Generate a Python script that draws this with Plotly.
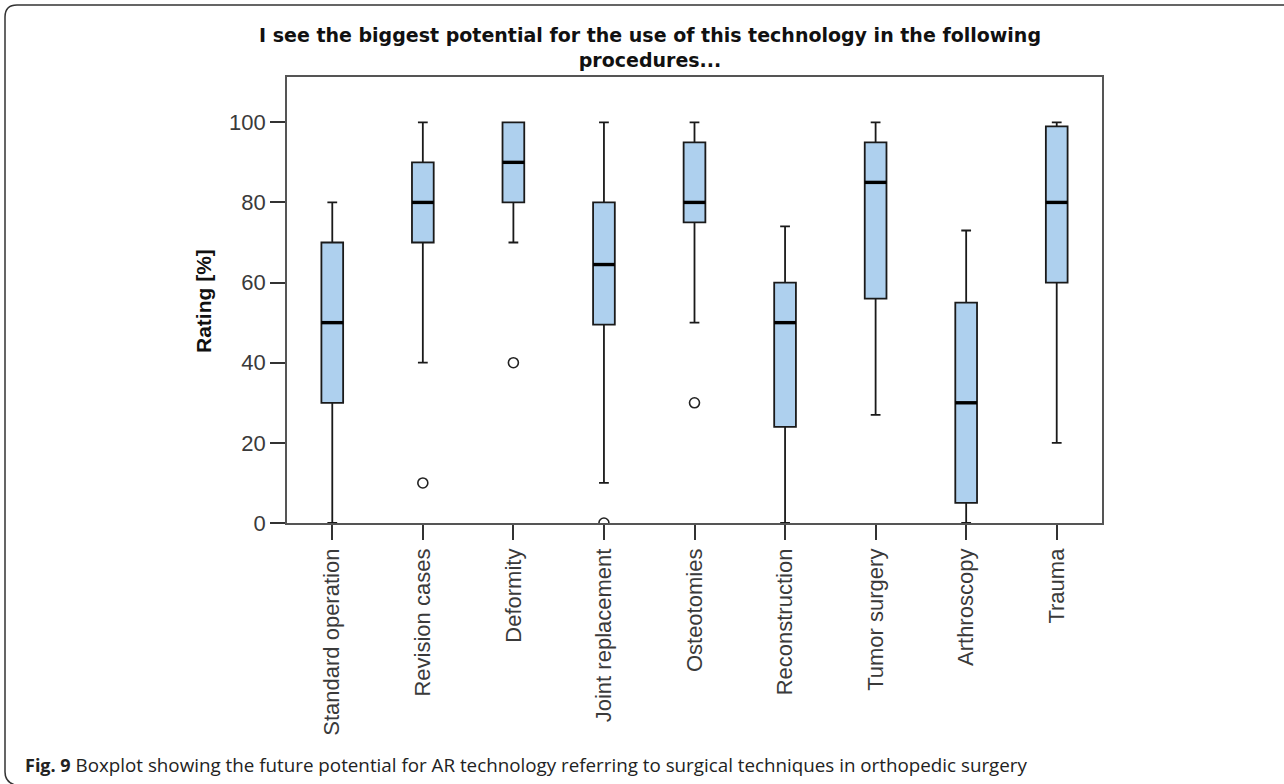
import plotly.graph_objects as go

# Procedures rated for the potential use of AR technology
categories = [
    "Standard operation", "Revision cases", "Deformity", "Joint replacement",
    "Osteotomies", "Reconstruction", "Tumor surgery", "Arthroscopy", "Trauma",
]

# Box statistics per procedure (rating in %)
lower_whisker = [0, 40, 70, 10, 50, 0, 27, 0, 20]
q1 = [30, 70, 80, 49.5, 75, 24, 56, 5, 60]
median = [50, 80, 90, 64.5, 80, 50, 85, 30, 80]
q3 = [70, 90, 100, 80, 95, 60, 95, 55, 99]
upper_whisker = [80, 100, 100, 100, 100, 74, 100, 73, 100]

# Outlying single ratings
outlier_cat = ["Revision cases", "Deformity", "Joint replacement", "Osteotomies"]
outlier_val = [10, 40, 0, 30]

y_ticks = [0, 20, 40, 60, 80, 100]

W, H = 1284, 784
ML, MR, MT, MB = 287, 182, 77, 261
PW, PH = W - ML - MR, H - MT - MB


def px(x):
    return (x - ML) / PW


def py(y):
    return (H - MB - y) / PH


pos = list(range(len(categories)))
box_w = 0.24
fill = "rgb(174,208,238)"

fig = go.Figure()

fig.add_trace(go.Box(
    x=pos,
    q1=q1, median=median, q3=q3,
    lowerfence=lower_whisker, upperfence=upper_whisker,
    width=box_w, whiskerwidth=0.45,
    fillcolor=fill,
    line=dict(color="#1a1a1a", width=1.8),
    boxpoints=False,
    hoverinfo="skip",
))

# Heavier median bars
mx, my = [], []
for i, m in zip(pos, median):
    mx += [i - box_w / 2, i + box_w / 2, None]
    my += [m, m, None]
fig.add_trace(go.Scatter(
    x=mx, y=my, mode="lines",
    line=dict(color="black", width=3.4),
    hoverinfo="skip",
))

fig.add_trace(go.Scatter(
    x=[categories.index(c) for c in outlier_cat], y=outlier_val,
    mode="markers",
    marker=dict(symbol="circle-open", size=10, color="#222",
                line=dict(width=1.6, color="#222")),
    hoverinfo="skip",
))

axis_font = dict(family="Liberation Sans, Arial, sans-serif", size=22, color="#3a3a3a")

fig.update_xaxes(
    range=[-0.5, len(categories) - 0.5],
    tickmode="array", tickvals=pos, ticktext=categories,
    tickangle=-90, ticks="outside", ticklen=15, tickwidth=1.5, tickcolor="#333",
    tickfont=axis_font,
    showline=True, linecolor="#555", linewidth=1.6, mirror=True,
    showgrid=False, zeroline=False, fixedrange=True,
)
fig.update_yaxes(
    range=[0, 111.3],
    tickmode="array", tickvals=y_ticks,
    ticks="outside", ticklen=15, tickwidth=1.5, tickcolor="#333",
    tickfont=axis_font,
    showline=True, linecolor="#555", linewidth=1.6, mirror=True,
    showgrid=False, zeroline=False, fixedrange=True,
)

annotations = [
    dict(text="<b>I see the biggest potential for the use of this technology in the following"
              "<br>procedures...</b>",
         x=px(650), y=py(47), xref="paper", yref="paper",
         xanchor="center", yanchor="middle", showarrow=False, align="center",
         font=dict(family="DejaVu Sans, sans-serif", size=19, color="#111")),
    dict(text="<b>Rating [%]</b>", textangle=-90,
         x=px(203), y=py(301), xref="paper", yref="paper",
         xanchor="center", yanchor="middle", showarrow=False,
         font=dict(family="Liberation Sans, Arial, sans-serif", size=21, color="#111")),
    dict(text="<b><span style='font-size:18px'>Fig. 9</span></b> Boxplot showing the future "
              "potential for AR technology referring to surgical techniques in orthopedic surgery",
         x=px(23), y=py(765), xref="paper", yref="paper",
         xanchor="left", yanchor="middle", showarrow=False,
         font=dict(family="Open Sans, sans-serif", size=18.8, color="#222")),
]

# Rounded outline around the figure panel
frame_path = (
    f"M {px(1290)},{py(5)} L {px(17)},{py(5)} "
    f"Q {px(5)},{py(5)} {px(5)},{py(17)} "
    f"L {px(5)},{py(772)} Q {px(5)},{py(782)} {px(15)},{py(785)}"
)

fig.update_layout(
    width=W, height=H,
    margin=dict(l=ML, r=MR, t=MT, b=MB),
    paper_bgcolor="white", plot_bgcolor="white",
    showlegend=False,
    annotations=annotations,
    shapes=[dict(type="path", path=frame_path, xref="paper", yref="paper",
                 line=dict(color="#333", width=1.5), layer="above")],
)

fig.write_html("out.html", config={"displayModeBar": False})
